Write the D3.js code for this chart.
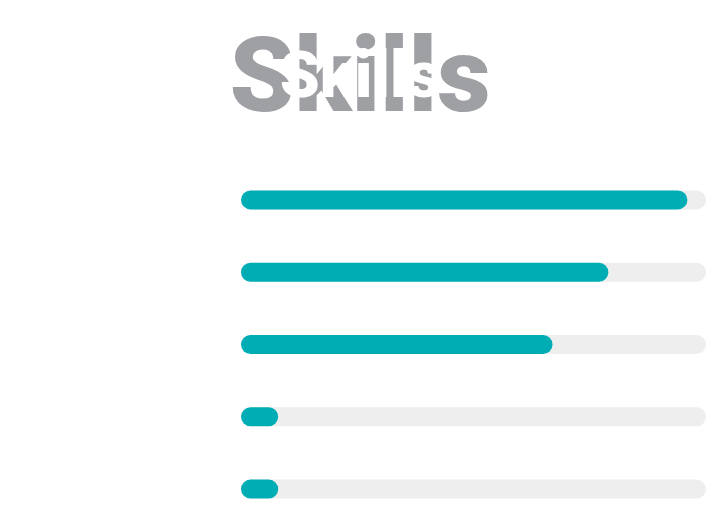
<!DOCTYPE html>
<html>
<head>
<meta charset="utf-8">
<script src="https://cdn.jsdelivr.net/npm/d3@7"></script>
<style>
  html, body { margin: 0; padding: 0; background: #ffffff; }
  svg { display: block; }
</style>
</head>
<body>
<div id="chart"></div>
<script>
// ---- data ----
const title = "Skills";
const rows = [1, 2, 3, 4, 5];
const values = [96, 79, 67, 8, 8];
const maxValue = 100;

// ---- layout ----
const W = 706, H = 511;
const barH = 19;
const svg = d3.select("#chart").append("svg").attr("width", W).attr("height", H);

const x = d3.scaleLinear().domain([0, maxValue]).range([241, 706]);
const y = d3.scalePoint().domain(rows).range([190.4, 479.6]);

// title: large gray backdrop word + white overlay word
svg.append("text")
  .attr("x", 360).attr("y", 111)
  .attr("text-anchor", "middle")
  .style("font-family", "Roboto, 'Liberation Sans', sans-serif")
  .style("font-weight", 900)
  .style("font-size", "104px")
  .attr("fill", "#9ea0a4")
  .text(title);

svg.append("text")
  .attr("x", 360).attr("y", 97)
  .attr("text-anchor", "middle")
  .style("font-family", "Roboto, 'Liberation Sans', sans-serif")
  .style("font-weight", 900)
  .style("font-size", "64px")
  .attr("fill", "#ffffff")
  .text(title);

const data = rows.map((r, i) => ({ row: r, value: values[i] }));

// tracks
svg.selectAll("rect.track").data(data).join("rect")
  .attr("class", "track")
  .attr("x", x(0))
  .attr("y", d => y(d.row))
  .attr("width", x(maxValue) - x(0))
  .attr("height", barH)
  .attr("rx", barH / 2).attr("ry", barH / 2)
  .attr("fill", "#eeeeee");

// fills
svg.selectAll("rect.bar").data(data).join("rect")
  .attr("class", "bar")
  .attr("x", x(0))
  .attr("y", d => y(d.row))
  .attr("width", d => x(d.value) - x(0))
  .attr("height", barH)
  .attr("rx", barH / 2).attr("ry", barH / 2)
  .attr("fill", "#00adb5");
</script>
</body>
</html>
